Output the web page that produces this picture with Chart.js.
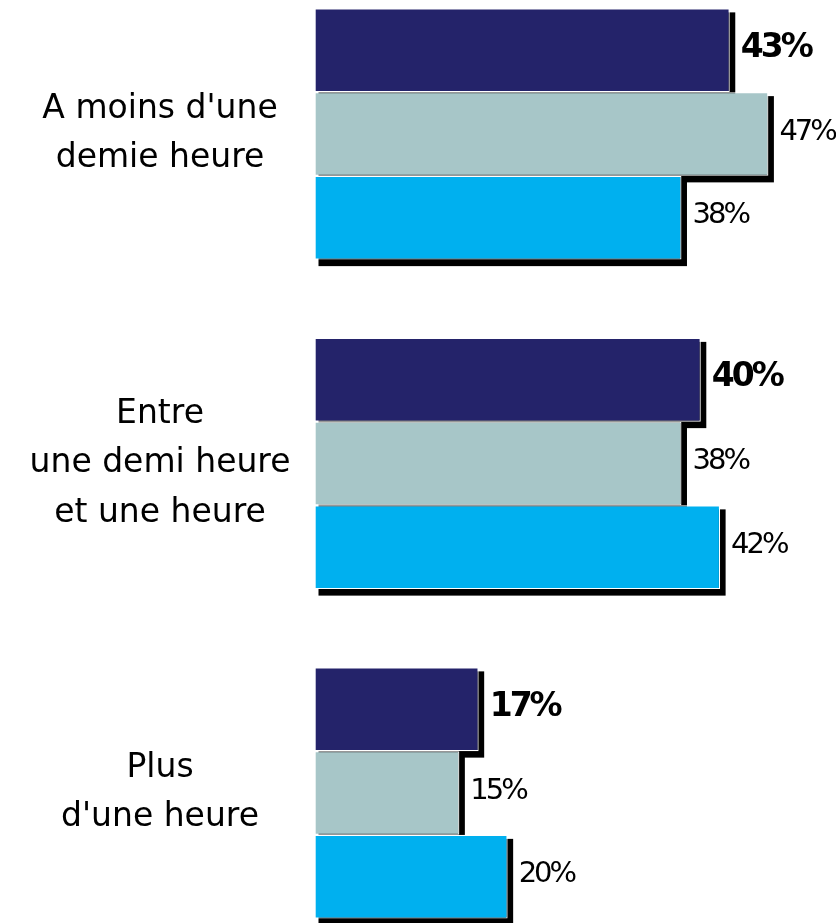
<!DOCTYPE html>
<html>
<head>
<meta charset="utf-8">
<script src="https://cdn.jsdelivr.net/npm/chart.js@4/dist/chart.umd.min.js"></script>
<style>
  html, body { margin: 0; padding: 0; background: #fff; }
  #wrap { width: 836px; height: 923px; position: relative; }
</style>
</head>
<body>
<div id="wrap"><canvas id="chart"></canvas></div>
<script>
// --- données du graphique ---
const categories = [
    ["A moins d'une", "demie heure"],
    ["Entre", "une demi heure", "et une heure"],
    ["Plus", "d'une heure"]
];
const seriesNames = ['Série 1', 'Série 2', 'Série 3'];
const serie1 = [43, 40, 17];
const serie2 = [47, 38, 15];
const serie3 = [38, 42, 20];
const seriesColors = ['#24236a', '#a7c6c8', '#00b0ef'];

// ombre noire sous chaque barre (dessinée avant toutes les barres)
const barShadow = {
    id: 'barShadow',
    beforeDatasetsDraw(chart) {
        const ctx = chart.ctx;
        ctx.save();
        ctx.fillStyle = '#000';
        chart.data.datasets.forEach((ds, i) => {
            chart.getDatasetMeta(i).data.forEach(el => {
                const p = el.getProps(['x', 'y', 'base', 'height'], true);
                const left = Math.min(p.x, p.base);
                const w = Math.abs(p.x - p.base);
                ctx.fillRect(left + 4, p.y - p.height / 2 + 4, w + 1.5, p.height + 2.5);
            });
        });
        ctx.restore();
    }
};

// étiquettes de valeur à droite des barres
const valueLabels = {
    id: 'valueLabels',
    afterDatasetsDraw(chart) {
        const ctx = chart.ctx;
        ctx.save();
        ctx.fillStyle = '#000';
        ctx.textAlign = 'left';
        ctx.textBaseline = 'middle';
        chart.data.datasets.forEach((ds, i) => {
            if (i === 0) {
                ctx.font = 'bold 33px "DejaVu Sans"';
            } else {
                ctx.font = '29px "DejaVu Sans"';
            }
            ctx.letterSpacing = '-3px';
            chart.getDatasetMeta(i).data.forEach((el, j) => {
                const p = el.getProps(['x', 'y', 'base'], true);
                ctx.fillText(ds.data[j] + '%', Math.max(p.x, p.base) + 11, p.y - 2);
            });
        });
        ctx.restore();
    }
};

const ctx = document.getElementById('chart').getContext('2d');
new Chart(ctx, {
    type: 'bar',
    data: {
        labels: categories,
        datasets: [serie1, serie2, serie3].map((vals, i) => ({
            label: seriesNames[i],
            data: vals,
            backgroundColor: seriesColors[i],
            borderColor: '#ffffff',
            borderWidth: 1.2,
            borderSkipped: false,
            clip: false
        }))
    },
    options: {
        indexAxis: 'y',
        responsive: true,
        maintainAspectRatio: false,
        animation: false,
        categoryPercentage: 0.7625,
        barPercentage: 1,
        layout: { padding: { top: 134, bottom: 130, left: 0, right: 0 } },
        scales: {
            x: {
                display: false,
                min: 0,
                max: 54
            },
            y: {
                offset: false,
                grid: { display: false, drawTicks: false },
                border: { display: false },
                ticks: {
                    color: '#000',
                    crossAlign: 'center',
                    padding: 24,
                    font: { family: 'DejaVu Sans', size: 33, lineHeight: 1.5 }
                },
                afterFit(axis) { axis.width = 314.5; }
            }
        },
        plugins: {
            legend: { display: false },
            tooltip: { enabled: false }
        }
    },
    plugins: [barShadow, valueLabels]
});
</script>
</body>
</html>
